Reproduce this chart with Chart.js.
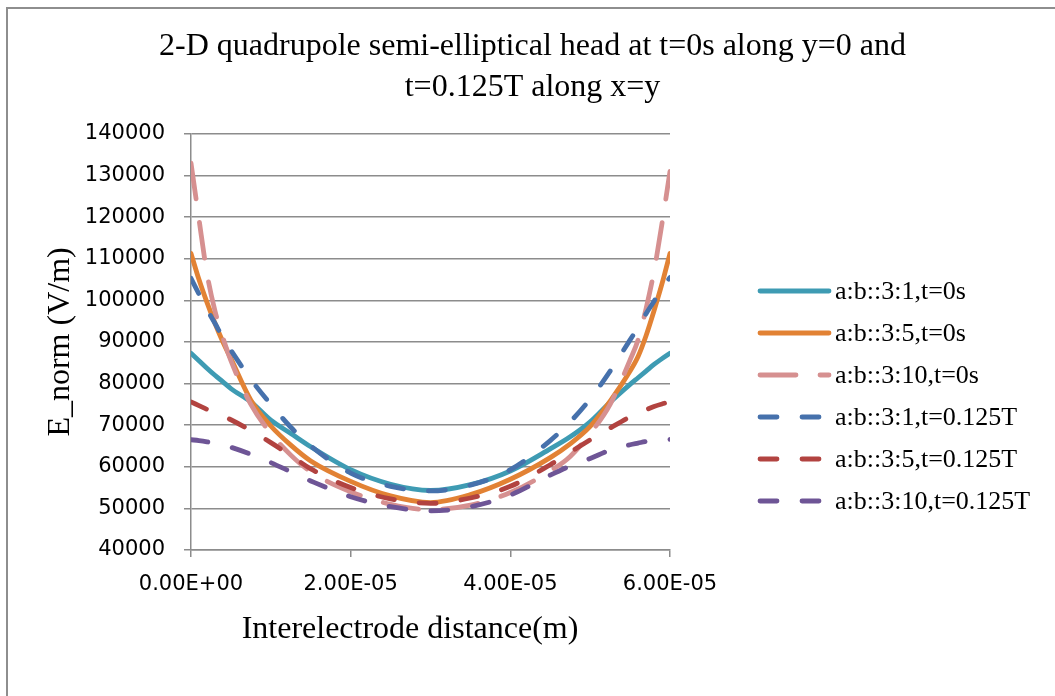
<!DOCTYPE html>
<html>
<head>
<meta charset="utf-8">
<title>E_norm vs interelectrode distance</title>
<script src="https://cdn.jsdelivr.net/npm/chart.js@4.4.1/dist/chart.umd.min.js"></script>
<style>
  html, body { margin: 0; padding: 0; background: #fff; overflow: hidden; }
  #frame { position: absolute; left: 6px; top: 7px; width: 1200px; height: 800px; border: 2px solid #8e8e8e; }
  #myChart { position: absolute; left: 0; top: 0; }
</style>
</head>
<body>
<div id="frame"></div>
<canvas id="myChart" width="1055" height="696"></canvas>
<script>
// distance along the electrode gap (m)
const distance = [0, 1e-6, 2e-6, 3e-6, 4e-6, 5e-6, 7.5e-6, 1e-5, 1.25e-5, 1.5e-5, 2e-5, 2.5e-5, 3e-5,
  3.5e-5, 4e-5, 4.5e-5, 4.75e-5, 5e-5, 5.25e-5, 5.5e-5, 5.6e-5, 5.7e-5, 5.8e-5, 5.9e-5, 6e-5]

// E_norm (V/m)
const ab31_t0 = [87300, 85500, 83700, 82000, 80400, 78800, 75600, 71200, 68000, 64800, 59300, 55800, 54300,
  55700, 59000, 64300, 67200, 70800, 75500, 79800, 81400, 83000, 84600, 86000, 87300]
const ab35_t0 = [111300, 105000, 99500, 94500, 90000, 86000, 76000, 69800, 65200, 61400, 56500, 53000, 51400,
  53300, 57000, 62200, 65500, 69700, 75800, 83000, 86500, 91500, 97500, 104000, 111300]
const ab310_t0 = [133000, 119500, 106500, 97500, 91000, 85500, 75000, 68000, 62800, 58800, 54000, 51000, 49700,
  50800, 53800, 59000, 62500, 68000, 75000, 85700, 90500, 98000, 107000, 118500, 131000]
const ab31_t125 = [105300, 101500, 97800, 94500, 91000, 88000, 81000, 75000, 69500, 65000, 58500, 55300, 54200,
  55600, 59300, 66300, 70800, 76300, 83000, 90500, 93500, 96800, 99800, 103000, 105500]
const ab35_t125 = [75600, 74700, 73800, 73000, 72200, 71300, 68700, 65800, 62700, 59500, 55000, 52300, 51200,
  52500, 55300, 60500, 63500, 66500, 69300, 72000, 72800, 73700, 74500, 75100, 75600]
const ab310_t125 = [66500, 66300, 66000, 65600, 65200, 64700, 63000, 61000, 58800, 56600, 52800, 50400, 49400,
  50400, 53200, 58000, 60200, 62000, 64000, 65300, 65700, 66100, 66400, 66500, 66600]

const seriesNames = ['a:b::3:1,t=0s', 'a:b::3:5,t=0s', 'a:b::3:10,t=0s',
  'a:b::3:1,t=0.125T', 'a:b::3:5,t=0.125T', 'a:b::3:10,t=0.125T']
const xTickLabels = ['0.00E+00', '2.00E-05', '4.00E-05', '6.00E-05']
const yTickLabels = ['40000', '50000', '60000', '70000', '80000', '90000', '100000',
  '110000', '120000', '130000', '140000']

const colors = ['#3e9bb3', '#e28234', '#d69090', '#4671ac', '#b24340', '#6e5596']
const dashes = [[], [], [36, 24], [17, 25], [17, 25], [17, 25]]
const values = [ab31_t0, ab35_t0, ab310_t0, ab31_t125, ab35_t125, ab310_t125]

const serif = "'Liberation Serif', 'Times New Roman', serif"
const sans = "'DejaVu Sans', sans-serif"

const datasets = values.map((vals, i) => ({
  label: seriesNames[i],
  data: distance.map((x, k) => ({ x, y: vals[k] })),
  borderColor: colors[i],
  backgroundColor: colors[i],
  borderWidth: 4.8,
  borderDash: dashes[i],
  borderCapStyle: 'round',
  pointRadius: 0,
  cubicInterpolationMode: 'monotone',
  order: values.length - i, // later series on top
  xAxisID: 'x',
  yAxisID: 'y',
}))

// legend on the right and the x axis caption
const sideText = {
  id: 'sideText',
  afterDraw(chart) {
    const ctx = chart.ctx
    ctx.save()
    chart.data.datasets.forEach((ds, i) => {
      const y = 291 + i * 42
      ctx.beginPath()
      ctx.strokeStyle = ds.borderColor
      ctx.lineWidth = ds.borderWidth
      ctx.lineCap = 'round'
      ctx.setLineDash(ds.borderDash)
      ctx.moveTo(760, y)
      ctx.lineTo(829, y)
      ctx.stroke()
      ctx.setLineDash([])
      ctx.fillStyle = '#000'
      ctx.font = `26px ${serif}`
      ctx.textAlign = 'left'
      ctx.textBaseline = 'middle'
      ctx.fillText(ds.label, 835, y + 1)
    })
    ctx.font = `32px ${serif}`
    ctx.textAlign = 'center'
    ctx.fillText('Interelectrode distance(m)', 410, 630)
    ctx.restore()
  },
}

const config = {
  type: 'line',
  data: { datasets },
  options: {
    responsive: false,
    animation: false,
    layout: { padding: { left: 10, right: 0, top: 0, bottom: 0 } },
    plugins: {
      legend: { display: false },
      tooltip: { enabled: false },
      title: {
        display: true,
        text: ['2-D quadrupole semi-elliptical head at t=0s along y=0 and', 't=0.125T along x=y'],
        color: '#000',
        font: { family: serif, size: 32, weight: 'normal', lineHeight: 1.28 },
        padding: { top: 26, bottom: 26 },
      },
    },
    scales: {
      x: {
        type: 'linear',
        min: 0,
        max: 6e-5,
        ticks: {
          stepSize: 2e-5,
          color: '#000',
          font: { family: sans, size: 21 },
          padding: 15,
          maxRotation: 0,
          callback: (v) => xTickLabels[Math.round(v / 2e-5)],
        },
        grid: { drawOnChartArea: false, tickLength: 7, color: '#8c8c8c', lineWidth: 1.5 },
        border: { color: '#8c8c8c', width: 1.5 },
        afterFit: (scale) => { scale.height = 146 },
      },
      y: {
        min: 40000,
        max: 140000,
        ticks: {
          stepSize: 10000,
          color: '#000',
          font: { family: sans, size: 21 },
          padding: 19,
          callback: (v) => yTickLabels[Math.round((v - 40000) / 10000)],
        },
        grid: { tickLength: 7, color: '#8c8c8c', lineWidth: 1.5 },
        border: { color: '#8c8c8c', width: 1.5 },
        title: {
          display: true,
          text: 'E_norm (V/m)',
          color: '#000',
          font: { family: serif, size: 32 },
          padding: { top: 31, bottom: 0 },
        },
        afterFit: (scale) => { scale.width = 181 },
      },
      // empty axis that reserves the space used by the legend
      side: {
        position: 'right',
        display: true,
        ticks: { display: false },
        grid: { display: false },
        border: { display: false },
        afterFit: (scale) => { scale.width = 385 },
      },
    },
  },
  plugins: [sideText],
}

const canvas = document.getElementById('myChart')
const myChart = new Chart(canvas, config)
</script>
</body>
</html>
